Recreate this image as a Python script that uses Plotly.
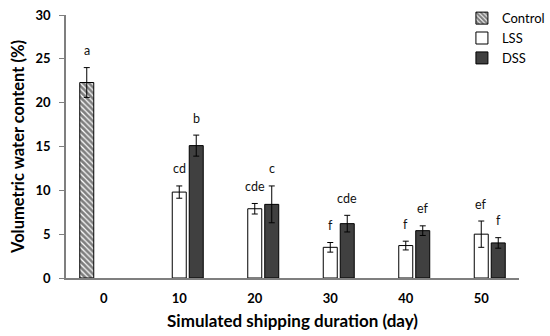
import plotly.graph_objects as go

categories = ["0", "10", "20", "30", "40", "50"]
control_vals = [22.3, None, None, None, None, None]
control_err = [1.7, None, None, None, None, None]
lss_vals = [None, 9.8, 7.9, 3.5, 3.7, 5.0]
lss_err = [None, 0.7, 0.6, 0.55, 0.5, 1.5]
dss_vals = [None, 15.1, 8.4, 6.2, 5.4, 4.0]
dss_err = [None, 1.2, 2.1, 0.95, 0.55, 0.6]
control_letters = ["a", None, None, None, None, None]
lss_letters = [None, "cd", "cde", "f", "f", "ef"]
dss_letters = [None, "b", "c", "cde", "ef", "f"]

FONT = "Lato"
err_style = dict(type="data", visible=True, color="black", thickness=1, width=3)

fig = go.Figure()
fig.add_trace(go.Bar(
    name="Control", x=categories, y=control_vals,
    error_y=dict(array=control_err, **err_style),
    marker=dict(color="white", line=dict(color="black", width=1),
                pattern=dict(shape="\\", fgcolor="black", bgcolor="white", size=4, solidity=0.7)),
))
fig.add_trace(go.Bar(
    name="LSS", x=categories, y=lss_vals,
    error_y=dict(array=lss_err, **err_style),
    marker=dict(color="white", line=dict(color="black", width=1)),
))
fig.add_trace(go.Bar(
    name="DSS", x=categories, y=dss_vals,
    error_y=dict(array=dss_err, **err_style),
    marker=dict(color="#404040", line=dict(color="black", width=1)),
))

annotations = []
slot_px = 17
for letters, vals, errs, shift in [(control_letters, control_vals, control_err, -slot_px),
                                   (lss_letters, lss_vals, lss_err, 0),
                                   (dss_letters, dss_vals, dss_err, slot_px)]:
    for i, (l, v, e) in enumerate(zip(letters, vals, errs)):
        if l is None:
            continue
        annotations.append(dict(x=i, y=v + e, text=l, showarrow=False, xshift=shift,
                                yshift=17, yanchor="middle",
                                font=dict(family=FONT, size=12.5, color="#111")))

fig.update_layout(
    width=550, height=336,
    margin=dict(l=66, r=31, t=15, b=58, autoexpand=False),
    paper_bgcolor="white", plot_bgcolor="white",
    barmode="group", bargap=0.325, bargroupgap=0.176,
    font=dict(family=FONT, color="black"),
    showlegend=True,
    legend=dict(x=0.874, y=1.045, xanchor="left", yanchor="top",
                font=dict(family=FONT, size=13, color="black"),
                itemwidth=30, tracegroupgap=0, bgcolor="rgba(0,0,0,0)"),
    annotations=annotations,
    xaxis=dict(type="category", range=[-0.5, 5.5], showline=True, linecolor="#7f7f7f", linewidth=1.5,
               ticks="", showgrid=False, zeroline=False, ticklabelstandoff=8,
               tickfont=dict(family=FONT, size=13, color="black", weight="bold"),
               title=dict(text="Simulated shipping duration (day)", standoff=10,
                          font=dict(family=FONT, size=17, color="black", weight="bold"))),
    yaxis=dict(range=[0, 30], dtick=5, showline=True, linecolor="#7f7f7f", linewidth=1.5,
               ticks="outside", ticklen=5, tickcolor="#7f7f7f", showgrid=False, zeroline=False,
               ticklabelstandoff=6,
               tickfont=dict(family=FONT, size=13, color="black", weight="bold"),
               title=dict(text="Volumetric water content (%)", standoff=7,
                          font=dict(family=FONT, size=16.5, color="black", weight="bold"))),
)

fig.write_html("out.html", config={"displayModeBar": False},
               post_script="document.body.style.margin='0';")
